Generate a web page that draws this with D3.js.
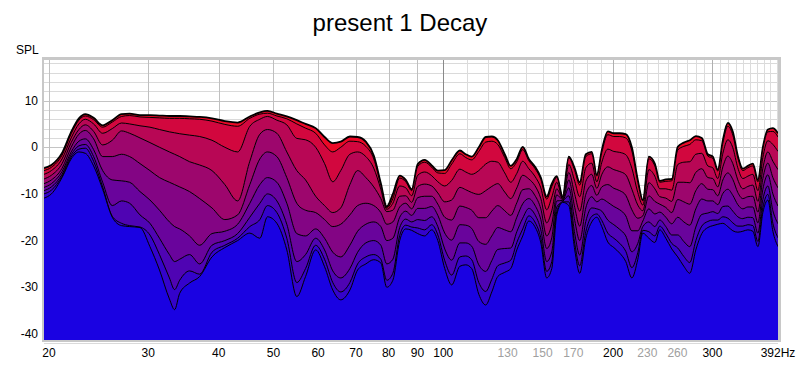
<!DOCTYPE html>
<html>
<head>
<meta charset="utf-8">
<script src="https://cdn.jsdelivr.net/npm/d3@7"></script>
<style>
  body { margin: 0; background: #fff; }
  svg { display: block; font-family: "Liberation Sans", Arial, sans-serif; }
</style>
</head>
<body>
<script>
// frequency points (Hz) shared by every decay slice
const freqs = [19.6,20.2,21.1,21.9,22.6,23.2,24.0,24.9,25.9,26.9,
  27.8,29.0,30.2,31.4,32.7,33.4,34.1,35.5,37.0,38.9,
  41.0,43.2,45.4,47.3,48.8,50.7,52.8,55.0,57.0,59.4,
  61.6,63.7,65.8,68.3,70.5,72.9,75.3,77.5,79.4,81.4,
  83.7,85.8,87.9,90.1,92.7,95.4,97.8,100.6,103.5,107.0,
  109.6,112.3,115.6,118.9,121.9,124.9,128.5,131.7,135.0,138.3,
  141.8,145.3,148.9,152.5,155.7,158.9,162.8,166.9,171.0,174.5,
  178.9,183.3,187.1,191.0,195.7,200.6,205.5,210.6,215.9,221.2,
  225.8,231.4,237.1,242.0,248.0,254.1,260.4,266.9,273.5,280.3,
  287.2,294.4,300.4,306.6,313.0,319.4,326.0,332.7,339.6,346.6,
  353.8,361.1,368.5,376.1,383.9,392]

// SPL (dB) per slice, earliest (top, red) to latest (bottom, blue)
const decay0 = [-4.5,-3.8,-1.2,3.3,6.2,7.1,6.3,4.7,5.8,7.1,
  7.2,6.9,6.9,6.8,6.7,6.7,6.7,6.6,6.5,6.2,
  5.6,5.3,6.6,7.5,7.8,7.2,6.6,5.8,5.0,4.1,
  2.2,0.9,1.2,2.3,2.2,1.2,-1.8,-7.7,-12.7,-10.0,
  -6.1,-7.0,-9.0,-3.6,-2.7,-3.9,-5.0,-4.9,-2.8,-0.7,
  -1.5,-2.0,0.0,2.2,2.3,1.5,-1.5,-4.0,-2.5,0.1,
  -2.5,-4.1,-6.5,-10.6,-7.8,-6.2,-10.6,-2.0,-4.5,-7.5,
  -1.5,-1.0,-5.9,-0.6,3.4,3.0,3.0,2.8,0.0,-7.0,
  -11.3,-2.0,-3.5,-7.2,-6.9,-6.8,0.1,1.0,1.5,2.4,
  2.0,-1.5,-2.0,-4.8,1.5,5.2,3.3,-1.8,-4.6,-4.0,
  -3.5,-7.0,0.0,3.8,4.1,3.0]
const decay1 = [-5.0,-4.3,-1.7,2.9,5.8,6.7,5.9,4.3,5.4,6.6,
  6.8,6.5,6.4,6.3,6.2,6.2,6.2,6.1,6.0,5.6,
  4.9,4.5,6.2,7.1,7.3,6.7,6.1,5.0,4.1,3.0,
  0.5,-1.0,0.0,1.3,1.2,0.2,-2.5,-8.2,-13.0,-11.0,
  -6.6,-7.4,-9.3,-4.1,-3.2,-4.3,-5.5,-5.6,-3.6,-1.4,
  -2.2,-2.7,-0.9,1.1,1.3,0.6,-2.2,-4.6,-3.1,-0.5,
  -2.9,-4.5,-6.9,-11.1,-8.4,-6.5,-10.7,-2.3,-5.0,-8.1,
  -2.0,-1.4,-6.2,-1.1,2.7,2.3,2.3,2.0,-0.8,-7.5,
  -11.5,-2.5,-4.0,-7.5,-7.3,-7.2,-0.6,0.2,0.6,1.6,
  1.4,-1.9,-2.4,-5.1,0.9,4.5,2.6,-2.3,-5.0,-4.4,
  -4.0,-7.4,-0.4,3.3,3.4,2.2]
const decay2 = [-5.8,-5.0,-2.5,2.0,5.0,6.0,5.0,3.0,4.0,5.2,
  5.0,4.6,4.3,3.8,3.3,3.1,2.9,2.6,2.3,1.5,
  0.0,-1.0,4.5,6.0,6.6,5.8,4.8,1.9,1.6,0.0,
  -3.5,-7.4,-5.0,-1.5,-1.0,-2.0,-4.5,-9.0,-13.3,-12.0,
  -8.3,-8.7,-10.4,-6.0,-5.3,-6.1,-7.4,-8.3,-7.1,-4.7,
  -5.3,-5.8,-5.0,-3.6,-3.0,-3.2,-5.5,-7.5,-5.6,-3.0,
  -4.6,-6.2,-8.7,-13.4,-10.7,-7.5,-10.8,-3.7,-7.3,-10.6,
  -4.4,-3.4,-7.4,-3.2,-0.4,-0.9,-1.1,-1.6,-4.5,-9.7,
  -12.4,-4.8,-6.2,-8.9,-8.9,-9.2,-3.7,-3.2,-3.1,-1.5,
  -1.3,-4.0,-4.4,-6.7,-1.3,1.6,-0.1,-4.4,-6.7,-6.2,
  -5.8,-9.3,-2.2,1.4,0.6,-0.9]
const decay3 = [-6.8,-6.0,-3.5,1.0,3.8,4.8,3.4,0.5,1.5,3.5,
  3.0,2.0,1.0,0.0,-1.0,-1.5,-2.0,-3.1,-3.8,-5.0,
  -8.0,-11.5,-3.0,2.8,3.8,3.0,-1.0,-5.0,-7.0,-10.5,
  -12.5,-14.0,-13.0,-8.0,-5.0,-6.5,-8.5,-11.0,-13.8,-13.5,
  -10.5,-10.4,-11.8,-8.4,-7.9,-8.3,-9.8,-11.7,-11.3,-8.6,
  -9.1,-9.7,-10.1,-9.3,-8.4,-7.8,-9.6,-11.0,-8.7,-6.0,
  -6.8,-8.2,-11.0,-16.2,-13.6,-8.9,-11.0,-5.4,-10.1,-13.7,
  -7.3,-5.8,-8.8,-5.8,-4.2,-4.8,-5.2,-5.9,-9.0,-12.4,
  -13.6,-7.6,-8.9,-10.6,-10.9,-11.6,-7.5,-7.5,-7.6,-5.4,
  -4.6,-6.5,-6.7,-8.5,-4.2,-1.9,-3.5,-7.0,-8.9,-8.4,
  -8.1,-11.6,-4.5,-1.0,-3.0,-4.8]
const decay4 = [-7.8,-7.0,-4.5,0.0,2.8,3.6,1.8,-2.0,-2.0,-1.5,
  -2.0,-3.5,-5.0,-6.5,-7.5,-8.0,-8.5,-9.5,-11.0,-13.0,
  -15.5,-14.5,-8.0,-2.5,-1.0,-2.0,-6.5,-12.0,-13.5,-14.0,
  -15.5,-17.0,-16.5,-14.5,-12.5,-12.0,-12.5,-14.0,-16.5,-16.0,
  -12.8,-12.0,-13.2,-10.8,-10.5,-10.5,-12.2,-15.0,-15.6,-12.6,
  -12.9,-13.5,-15.1,-15.1,-13.7,-12.5,-13.6,-14.6,-11.9,-9.1,
  -8.9,-10.3,-13.2,-19.0,-16.5,-10.2,-11.2,-7.0,-12.9,-16.9,
  -10.1,-8.2,-10.3,-8.5,-8.0,-8.8,-9.3,-10.3,-13.4,-15.2,
  -14.7,-10.4,-11.6,-12.2,-12.9,-14.0,-11.2,-11.7,-12.2,-9.3,
  -7.8,-9.0,-9.1,-10.4,-7.0,-5.5,-6.9,-9.7,-11.0,-10.6,
  -10.5,-13.9,-6.7,-3.4,-6.5,-8.7]
const decay5 = [-8.6,-7.8,-5.2,-1.0,1.3,1.8,-0.5,-5.0,-7.0,-7.2,
  -7.5,-9.5,-11.3,-13.5,-16.0,-17.0,-17.5,-19.0,-21.0,-18.5,
  -18.0,-16.5,-12.0,-8.0,-6.5,-7.5,-12.0,-18.5,-19.0,-17.5,
  -19.5,-22.5,-23.5,-21.0,-18.0,-16.5,-16.0,-17.0,-20.0,-19.5,
  -15.0,-13.7,-14.6,-13.1,-13.1,-12.7,-14.6,-18.4,-19.9,-16.6,
  -16.7,-17.4,-20.2,-20.8,-19.0,-17.2,-17.7,-18.1,-15.0,-12.1,
  -11.0,-12.4,-15.5,-21.7,-19.4,-11.5,-11.4,-8.7,-15.7,-20.0,
  -13.0,-10.6,-11.7,-11.1,-11.8,-12.7,-13.4,-14.7,-17.9,-17.9,
  -15.8,-13.2,-14.3,-13.9,-15.0,-16.4,-15.0,-16.0,-16.7,-13.2,
  -11.1,-11.5,-11.5,-12.3,-9.9,-9.0,-10.3,-12.3,-13.2,-12.8,
  -12.8,-16.2,-9.0,-5.9,-10.0,-12.6]
const decay6 = [-9.3,-8.5,-5.8,-1.6,0.3,0.6,-2.0,-7.5,-12.5,-11.5,
  -12.0,-14.5,-16.3,-19.5,-23.0,-24.5,-24.0,-23.0,-25.0,-21.0,
  -20.0,-18.5,-15.0,-12.0,-10.0,-11.5,-16.5,-24.5,-23.0,-19.5,
  -22.0,-26.5,-28.0,-26.0,-22.5,-20.5,-20.0,-21.0,-25.0,-24.0,
  -17.2,-15.4,-16.0,-15.5,-15.7,-14.9,-17.0,-21.8,-24.2,-20.5,
  -20.5,-21.2,-25.2,-26.6,-24.3,-21.9,-21.7,-21.6,-18.1,-15.2,
  -13.1,-14.4,-17.7,-24.5,-22.4,-12.8,-11.6,-10.4,-18.5,-23.1,
  -15.9,-13.0,-13.2,-13.7,-15.6,-16.6,-17.6,-19.0,-22.4,-20.6,
  -17.0,-16.0,-17.0,-15.6,-17.0,-18.8,-18.8,-20.2,-21.3,-17.1,
  -14.4,-14.1,-13.8,-14.2,-12.7,-12.6,-13.7,-14.9,-15.3,-15.0,
  -15.1,-18.4,-11.2,-8.3,-13.6,-16.4]
const decay7 = [-10.0,-9.2,-6.2,-2.1,-0.4,-0.2,-3.0,-8.5,-14.8,-16.3,
  -16.8,-17.1,-18.8,-23.0,-28.0,-30.5,-28.5,-26.5,-27.2,-22.5,
  -21.0,-19.5,-17.0,-15.5,-12.5,-14.0,-19.5,-29.0,-26.0,-21.0,
  -24.0,-29.0,-31.0,-29.0,-25.0,-23.5,-23.0,-24.0,-28.5,-27.0,
  -18.9,-16.7,-17.1,-17.3,-17.7,-16.6,-18.8,-24.3,-27.4,-23.5,
  -23.3,-24.1,-29.0,-30.9,-28.3,-25.4,-24.8,-24.2,-20.4,-17.5,
  -14.7,-16.0,-19.4,-26.6,-24.5,-13.8,-11.7,-11.7,-20.6,-25.4,
  -18.1,-14.8,-14.3,-15.7,-18.4,-19.5,-20.6,-22.3,-25.8,-22.6,
  -17.8,-18.1,-19.0,-16.9,-18.5,-20.6,-21.6,-23.4,-24.7,-20.0,
  -16.9,-15.9,-15.6,-15.6,-14.9,-15.2,-16.2,-16.9,-16.9,-16.6,
  -16.8,-20.2,-12.9,-10.1,-16.3,-19.4]
const decay8 = [-10.9,-10.0,-6.5,-2.5,-1.0,-1.3,-4.0,-9.0,-15.0,-16.8,
  -17.0,-17.2,-21.3,-26.3,-32.5,-34.8,-31.3,-29.1,-27.7,-23.5,
  -21.5,-20.0,-18.4,-19.5,-14.9,-16.3,-22.0,-32.0,-27.7,-22.0,
  -25.6,-30.6,-32.7,-30.6,-26.3,-25.0,-24.1,-24.8,-30.0,-28.5,
  -20.0,-17.5,-17.8,-18.5,-19.0,-17.7,-20.0,-26.0,-29.5,-25.5,
  -25.2,-26.0,-31.5,-33.8,-31.0,-27.7,-26.8,-26.0,-22.0,-19.0,
  -15.8,-17.0,-20.5,-28.0,-26.0,-14.5,-11.8,-12.5,-22.0,-27.0,
  -19.5,-16.0,-15.0,-17.0,-20.3,-21.5,-22.7,-24.5,-28.0,-24.0,
  -18.4,-19.5,-20.4,-17.7,-19.5,-21.8,-23.5,-25.5,-27.0,-22.0,
  -18.5,-17.2,-16.8,-16.5,-16.3,-17.0,-17.9,-18.2,-18.0,-17.7,
  -18.0,-21.3,-14.0,-11.3,-18.0,-21.3]

const xTickLabels = [20, 30, 40, 50, 60, 70, 80, 90, 100, 130, 150, 170, 200, 230, 260, 300]
const greyTickLabels = [130, 150, 170, 230, 260]
const yTickLabels = [10, 0, -10, -20, -30, -40]

const width = 800, height = 365
const plot = {left: 44, right: 778, top: 60, bottom: 340}

const svg = d3.select("body").append("svg")
  .attr("width", width)
  .attr("height", height)

const x = d3.scaleLog()
  .domain([19.6, 392])
  .range([plot.left, plot.right])

const y = d3.scaleLinear()
  .domain([-41.2, 18.7])
  .range([plot.bottom - 0.5, plot.top])

/* frame */
svg.append("rect")
  .attr("x", plot.left - 2).attr("y", plot.top - 3)
  .attr("width", plot.right - plot.left + 5).attr("height", plot.bottom - plot.top + 5)
  .attr("fill", "#c8c8c8")
svg.append("rect")
  .attr("x", plot.left).attr("y", plot.top)
  .attr("width", plot.right - plot.left).attr("height", plot.bottom - plot.top)
  .attr("fill", "#fff")

/* grid */
const grid = svg.append("g")
const hLines = d3.range(-42, 19, 2)
grid.selectAll(".h").data(hLines).enter().append("line")
  .attr("x1", plot.left).attr("x2", plot.right)
  .attr("y1", d => Math.round(y(d)) + 0.5).attr("y2", d => Math.round(y(d)) + 0.5)
  .attr("stroke", d => d % 10 === 0 ? "#c4c4c4" : "#dadada")

const vLines = d3.range(20, 100, 10).concat(d3.range(100, 400, 10))
const vColor = d => d === 100 ? "#8a8a8a" : (d === 200 || d === 300) ? "#b0b0b0" : d < 100 ? "#c0c0c0" : "#dcdcdc"
grid.selectAll(".v").data(vLines).enter().append("line")
  .attr("x1", d => Math.round(x(d)) + 0.5).attr("x2", d => Math.round(x(d)) + 0.5)
  .attr("y1", plot.top).attr("y2", plot.bottom)
  .attr("stroke", vColor)

/* decay slices, drawn back (earliest) to front (latest) */
svg.append("clipPath").attr("id", "clip")
  .append("rect")
  .attr("x", plot.left).attr("y", plot.top)
  .attr("width", plot.right - plot.left).attr("height", plot.bottom - plot.top)

const slices = [decay0, decay1, decay2, decay3, decay4, decay5, decay6, decay7, decay8]
const color = d3.interpolateRgb("rgb(236,8,38)", "rgb(26,2,226)")

const area = d3.area()
  .x(d => x(d[0]))
  .y0(plot.bottom)
  .y1(d => y(d[1]))
  .curve(d3.curveMonotoneX)
const line = d3.line()
  .x(d => x(d[0]))
  .y(d => y(d[1]))
  .curve(d3.curveMonotoneX)

const g = svg.append("g").attr("clip-path", "url(#clip)")
slices.forEach((s, i) => {
  const pts = freqs.map((f, j) => [f, s[j]])
  g.append("path")
    .attr("d", area(pts))
    .attr("fill", color(i / (slices.length - 1)))
  g.append("path")
    .attr("d", line(pts))
    .attr("fill", "none")
    .attr("stroke", "#000")
    .attr("stroke-width", i === 0 ? 1.8 : 1)
})

/* axes labels */
svg.append("g").selectAll("text").data(yTickLabels).enter().append("text")
  .attr("x", 38).attr("y", d => y(d) + 4)
  .attr("text-anchor", "end")
  .attr("font-size", 12)
  .text(d => d)

svg.append("g").selectAll("text").data(xTickLabels).enter().append("text")
  .attr("x", d => x(d)).attr("y", 357)
  .attr("text-anchor", "middle")
  .attr("font-size", 12)
  .attr("fill", d => greyTickLabels.includes(d) ? "#a0a0a0" : "#000")
  .text(d => d)

svg.append("text")
  .attr("x", x(392)).attr("y", 357)
  .attr("text-anchor", "middle")
  .attr("font-size", 12)
  .text("392Hz")

svg.append("text")
  .attr("x", 16).attr("y", 54)
  .attr("font-size", 12)
  .text("SPL")

svg.append("text")
  .attr("x", 400).attr("y", 31)
  .attr("text-anchor", "middle")
  .attr("font-size", 24)
  .text("present 1 Decay")
</script>
</body>
</html>
